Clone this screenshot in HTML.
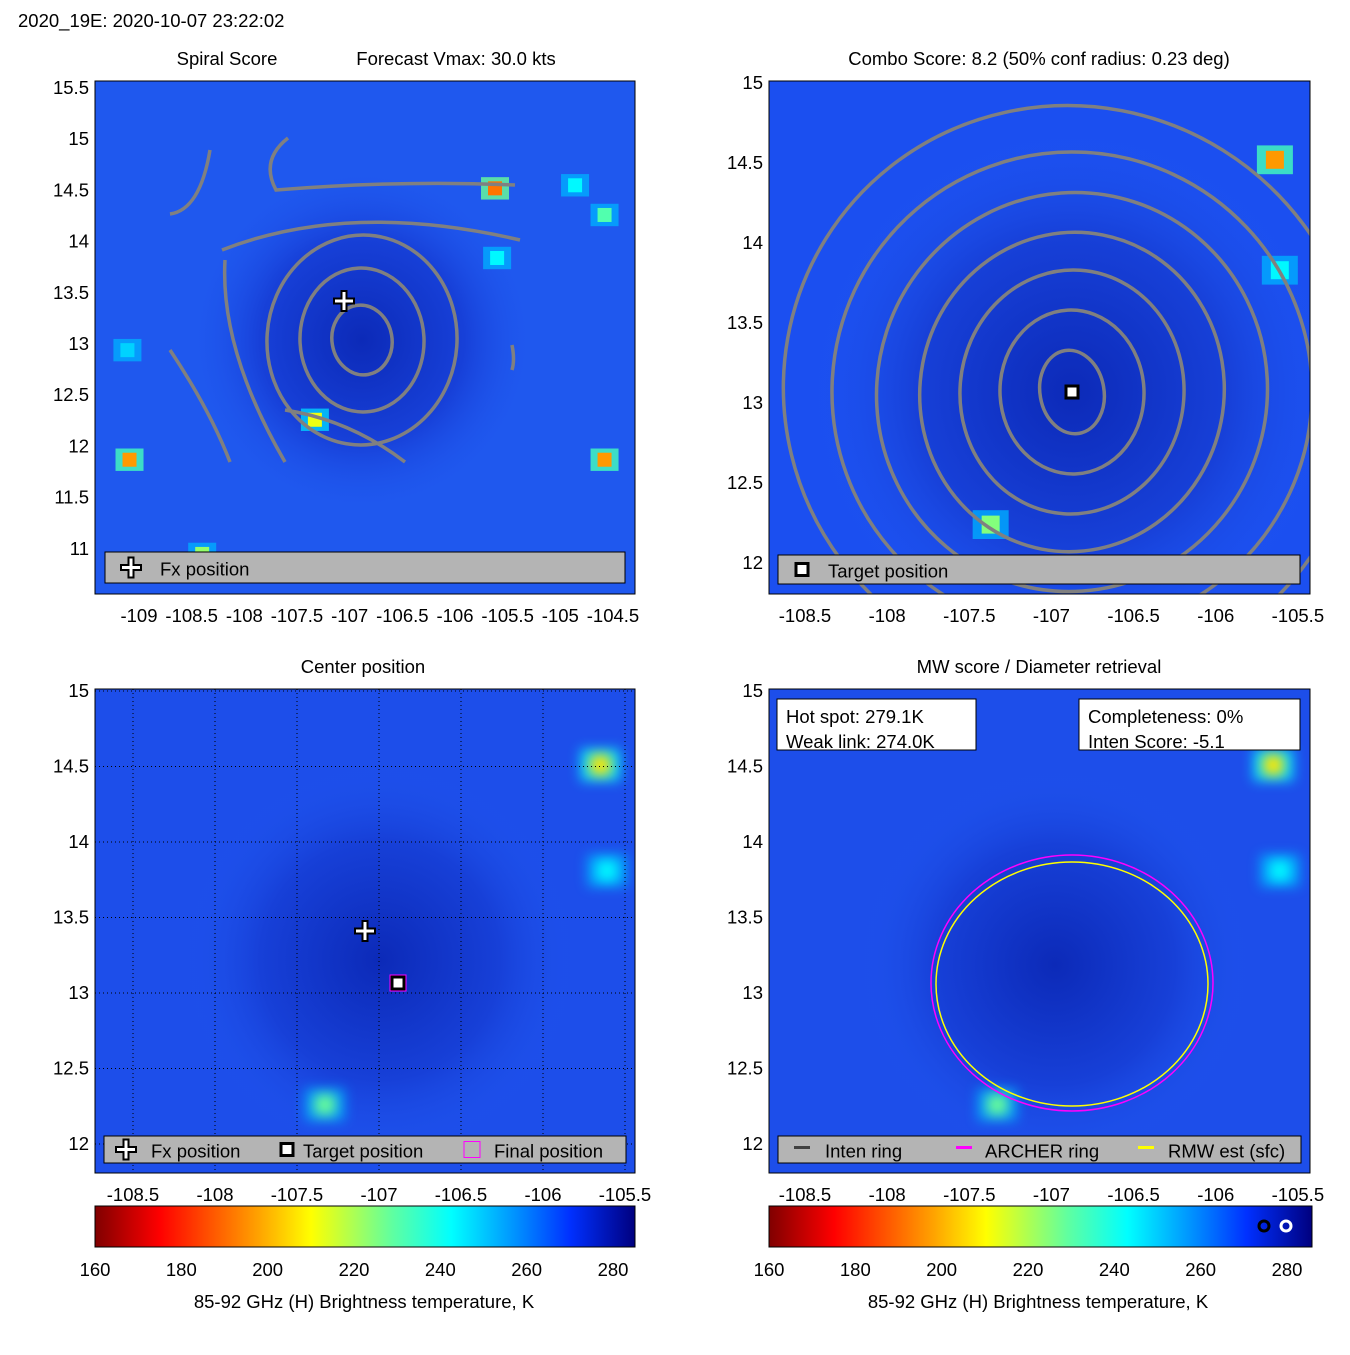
<!DOCTYPE html>
<html><head><meta charset="utf-8"><style>
body{margin:0;background:#fff;}
svg text{font-family:"Liberation Sans",sans-serif;font-size:18.5px;fill:#000;}
</style></head><body>
<svg id="s" width="1350" height="1350" xmlns="http://www.w3.org/2000/svg">
<defs>
<radialGradient id="g1" cx="0.5" cy="0.5" r="0.5"><stop offset="0" stop-color="#0c2ab8"/><stop offset="0.6" stop-color="#1740d8"/><stop offset="1" stop-color="#1f55ee" stop-opacity="0"/></radialGradient>
<linearGradient id="cb" x1="0" x2="1" y1="0" y2="0">
<stop offset="0" stop-color="#800000"/><stop offset="0.12" stop-color="#ff0000"/><stop offset="0.3" stop-color="#ffa000"/><stop offset="0.4" stop-color="#ffff00"/><stop offset="0.55" stop-color="#60ffa0"/><stop offset="0.66" stop-color="#00ffff"/><stop offset="0.78" stop-color="#0090ff"/><stop offset="0.88" stop-color="#0030ff"/><stop offset="1" stop-color="#00007f"/></linearGradient>
<filter id="bl" x="-100%" y="-100%" width="300%" height="300%"><feGaussianBlur stdDeviation="6"/></filter>
</defs>
<text x="18" y="27">2020_19E: 2020-10-07 23:22:02</text>
<g id="root"></g>
</svg>
<script>
const NS="http://www.w3.org/2000/svg";
const root=document.getElementById('root');
function el(t,a,p){const e=document.createElementNS(NS,t);for(const k in a)e.setAttribute(k,a[k]);(p||root).appendChild(e);return e;}
// data
const p1XTicks=[-109,-108.5,-108,-107.5,-107,-106.5,-106,-105.5,-105,-104.5];
const p1YTicks=[15.5,15,14.5,14,13.5,13,12.5,12,11.5,11];
const pXTicks=[-108.5,-108,-107.5,-107,-106.5,-106,-105.5];
const pYTicks=[15,14.5,14,13.5,13,12.5,12];
const cbTicks=[160,180,200,220,240,260,280];
const p1Spots=[[-105.62,14.52,190],[-104.86,14.55,240],[-104.58,14.26,228],[-105.6,13.84,240],[-109.09,11.87,195],[-107.33,12.26,210],[-104.58,11.87,195],[-109.11,12.94,245],[-108.4,10.95,220]];
const p2Spots=[[-105.64,14.52,195],[-105.61,13.83,240],[-107.37,12.24,222]];
const p34Spots=[[-105.65,14.51,205],[-105.61,13.81,240],[-107.33,12.26,225]];
const p1Rings=[[30,35],[62,72],[95,105]];
const p2Rings=[[32,42],[72,82],[112,122],[152,160],[195,200],[240,240],[290,285]];

function cmap(v){const t=(v-160)/120;const st=[[0,[128,0,0]],[.12,[255,0,0]],[.3,[255,160,0]],[.4,[255,255,0]],[.55,[96,255,160]],[.66,[0,255,255]],[.78,[0,144,255]],[.88,[0,48,255]],[1,[0,0,127]]];
for(let i=1;i<st.length;i++){if(t<=st[i][0]){const a=st[i-1],b=st[i],f=(t-a[0])/(b[0]-a[0]);return 'rgb('+a[1].map((c,j)=>Math.round(c+(b[1][j]-c)*f)).join(',')+')';}}return 'rgb(0,0,127)';}

function panel(P){
 const g=el('g',{});
 const sx=v=>P.x0+(v-P.xv0)*P.kx, sy=v=>P.y0+(P.yv0-v)*P.ky;
 const cp=el('clipPath',{id:'c'+P.name},g);el('rect',{x:P.L,y:P.T,width:P.R-P.L,height:P.B-P.T},cp);
 const inner=el('g',{'clip-path':'url(#c'+P.name+')'},g);
 el('rect',{x:P.L,y:P.T,width:P.R-P.L,height:P.B-P.T,fill:P.bg},inner);
 el('ellipse',{cx:P.cx,cy:P.cy,rx:P.dr,ry:P.dr,fill:'url(#g1)'},inner);
 P.spots.forEach(s=>{
  const f=P.soft?{filter:'url(#bl)'}:{};
  el('rect',Object.assign({x:sx(s[0])-P.ss,y:sy(s[1])-P.ss*0.8,width:P.ss*2,height:P.ss*1.6,fill:cmap(Math.min(s[2]+35,250)),opacity:0.8},f),inner);
  const r=el('rect',Object.assign({x:sx(s[0])-P.ss/2,y:sy(s[1])-P.ss/2,width:P.ss,height:P.ss,fill:cmap(s[2])},f),inner);
  });
 if(P.grid){P.xt.forEach(t=>el('line',{x1:sx(t),x2:sx(t),y1:P.T,y2:P.B,stroke:'#000','stroke-dasharray':'1,3','stroke-width':1},inner));
  P.yt.forEach(t=>el('line',{x1:P.L,x2:P.R,y1:sy(t),y2:sy(t),stroke:'#000','stroke-dasharray':'1,3','stroke-width':1},inner));}
 (P.rings||[]).forEach((r,i)=>{const e=el('ellipse',{cx:P.cx,cy:P.cy,rx:r[0],ry:r[1],fill:'none',stroke:'#808080','stroke-width':3.5,transform:'rotate('+(i*7-10)+' '+P.cx+' '+P.cy+')'},inner);
  });
 if(P.extra)P.extra(inner,sx,sy);
 el('rect',{x:P.L,y:P.T,width:P.R-P.L,height:P.B-P.T,fill:'none',stroke:'#000'},g);
 P.xt.forEach(t=>{const tx=el('text',{x:sx(t),y:P.B+28,'text-anchor':'middle'},g);tx.textContent=String(t);});
 P.yt.forEach(t=>{const tx=el('text',{x:P.L-6,y:sy(t)+6,'text-anchor':'end'},g);tx.textContent=String(t);});
 P.titles.forEach(tt=>{const tx=el('text',{x:tt[0],y:P.T-16,'text-anchor':'middle'},g);tx.textContent=tt[1];});
 return {g,sx,sy};
}
function legendBox(x,y,w,h,items){const b=el('rect',{x,y,width:w,height:h,fill:'#b4b4b4',stroke:'#000'});
 items.forEach(it=>{it[2](it[0],y+h/2);const t=el('text',{x:it[0]+it[3],y:y+h/2+8});t.textContent=it[1];});}
const plus=(x,y)=>{el('path',{d:`M${x-11} ${y}H${x+11}M${x} ${y-11}V${y+11}`,stroke:'#000','stroke-width':7});el('path',{d:`M${x-9} ${y}H${x+9}M${x} ${y-9}V${y+9}`,stroke:'#fff','stroke-width':3});};
const sq=(x,y,c)=>{el('rect',{x:x-6,y:y-6,width:12,height:12,fill:'#fff',stroke:'#000','stroke-width':3});if(c)el('rect',{x:x-8,y:y-8,width:16,height:16,fill:'none',stroke:c,'stroke-width':1});};

const p1=panel({name:'spiral-score-panel',L:95,R:635,T:81,B:594,x0:139,xv0:-109,kx:105.33,y0:88,yv0:15.5,ky:102.4,bg:'#1f58ee',cx:362,cy:340,dr:170,spots:p1Spots,ss:14,rings:p1Rings,xt:p1XTicks,yt:p1YTicks,titles:[[227,'Spiral Score'],[456,'Forecast Vmax: 30.0 kts']],
 extra:(g)=>{['M170 214 Q200 210 210 150','M288 138 Q260 160 276 190 Q400 180 515 185','M222 250 Q350 200 520 240','M170 350 Q210 410 230 462','M225 260 Q220 350 285 462','M512 345 Q515 360 512 370','M285 410 Q350 420 405 462'].forEach(d=>el('path',{d,fill:'none',stroke:'#808080','stroke-width':3.5},g));}});
plus(344,301);
legendBox(105,552,520,31,[[118,'Fx position',(x,y)=>plus(x+13,y),42]]);

const p2=panel({name:'combo-score-panel',L:769,R:1310,T:81,B:594,x0:805,xv0:-108.5,kx:164.3,y0:83,yv0:15,ky:160,bg:'#1b4ff0',cx:1072,cy:392,dr:260,spots:p2Spots,ss:18,rings:p2Rings,xt:pXTicks,yt:pYTicks,titles:[[1039,'Combo Score: 8.2  (50% conf radius: 0.23 deg)']]});
sq(1072,392);
legendBox(778,555,522,29,[[790,'Target position',(x,y)=>sq(x+12,y),38]]);

const p3=panel({name:'center-position-panel',L:95,R:635,T:689,B:1173,x0:133,xv0:-108.5,kx:164,y0:691,yv0:15,ky:151,bg:'#1d4eea',cx:380,cy:960,dr:200,spots:p34Spots,ss:20,soft:true,grid:true,xt:pXTicks,yt:pYTicks,titles:[[363,'Center position']]});
plus(365,931);sq(398,983,'#ff00ff');
legendBox(104,1136,522,27,[[113,'Fx position',(x,y)=>plus(x+13,y),38],[273,'Target position',(x,y)=>sq(x+14,y),30],[462,'Final position',(x,y)=>el('rect',{x:x+2,y:y-8,width:16,height:16,fill:'none',stroke:'#ff00ff'}),32]]);

const p4=panel({name:'mw-score-panel',L:769,R:1310,T:689,B:1173,x0:805,xv0:-108.5,kx:164.3,y0:691,yv0:15,ky:151,bg:'#1d4eea',cx:1055,cy:965,dr:200,spots:p34Spots,ss:20,soft:true,xt:pXTicks,yt:pYTicks,titles:[[1039,'MW score / Diameter retrieval']],
 extra:(g)=>{el('ellipse',{cx:1072,cy:983,rx:141,ry:128,fill:'none',stroke:'#ff00ff','stroke-width':1.5},g);el('ellipse',{cx:1072,cy:984,rx:136,ry:122,fill:'none',stroke:'#ffff00','stroke-width':1.5},g);}});
[[777,699,199,['Hot spot: 279.1K','Weak link: 274.0K']],[1079,699,221,['Completeness: 0%','Inten Score: -5.1']]].forEach(b=>{const r=el('rect',{x:b[0],y:b[1],width:b[2],height:51,fill:'#fff',stroke:'#000'});b[3].forEach((s,i)=>{const t=el('text',{x:b[0]+9,y:b[1]+24+i*25});t.textContent=s;});});
legendBox(778,1136,523,27,[[792,'Inten ring',(x,y)=>el('line',{x1:x+2,x2:x+18,y1:y-2,y2:y-2,stroke:'#404040','stroke-width':3}),33],[952,'ARCHER ring',(x,y)=>el('line',{x1:x+4,x2:x+20,y1:y-2,y2:y-2,stroke:'#ff00ff','stroke-width':3}),33],[1136,'RMW est (sfc)',(x,y)=>el('line',{x1:x+2,x2:x+18,y1:y-2,y2:y-2,stroke:'#ffff00','stroke-width':3}),32]]);

[95,769].forEach((x0,i)=>{const w=i?543:540;const r=el('rect',{x:x0,y:1206,width:w,height:41,fill:'url(#cb)',stroke:'#000'});
 const k=(613-95)/120;cbTicks.forEach(t=>{const tx=el('text',{x:x0+(t-160)*k,y:1276,'text-anchor':'middle'});tx.textContent=String(t);});
 const lb=el('text',{x:x0+269,y:1308,'text-anchor':'middle'});lb.textContent='85-92 GHz (H) Brightness temperature, K';});
el('circle',{cx:1264,cy:1226,r:5,fill:'none',stroke:'#000','stroke-width':3});
el('circle',{cx:1286,cy:1226,r:5,fill:'none',stroke:'#fff','stroke-width':3});
</script>
</body></html>
